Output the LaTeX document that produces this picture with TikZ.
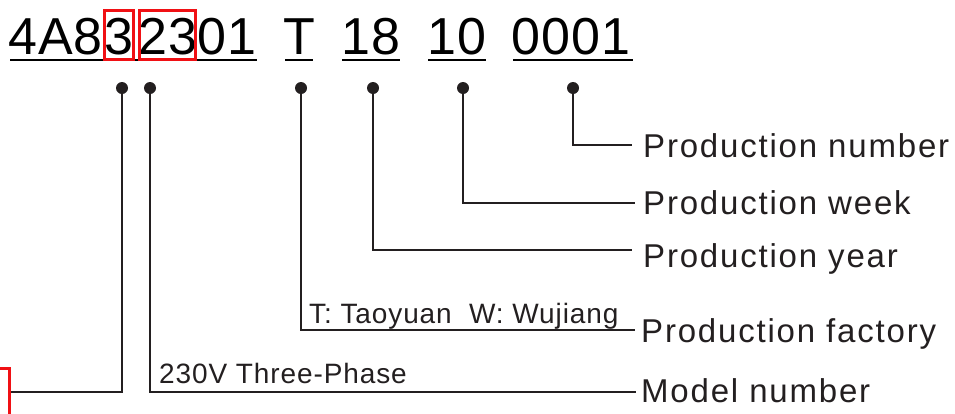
\documentclass[tikz,border=0pt]{standalone}
\usepackage{fontspec}
\setmainfont{Liberation Sans}
\newfontfamily\lblfont[LetterSpace=5.5]{Liberation Sans}
\newfontfamily\notefont[LetterSpace=3.2]{Liberation Sans}
\newfontfamily\codefont[LetterSpace=2]{Liberation Sans}
\definecolor{ink}{HTML}{231F20}
\definecolor{mark}{RGB}{240,16,20}
\begin{document}
\begin{tikzpicture}[x=1pt,y=-1pt,
  code/.style={font=\codefont\fontsize{52}{52}\selectfont, anchor=base west, inner sep=0pt},
  lbl/.style={font=\lblfont\fontsize{33}{33}\selectfont, anchor=base west, inner sep=0pt, text=ink},
  note/.style={font=\notefont\fontsize{28}{28}\selectfont, anchor=base west, inner sep=0pt, text=ink},
  dot/.style={circle, fill=ink, inner sep=0pt, minimum size=12pt},
  conn/.style={draw=ink, line width=1.7pt},
  uline/.style={draw=black, line width=2pt},
  redbox/.style={draw=mark, line width=3pt},
]
\useasboundingbox (0,0) rectangle (955,413);
% code string
\node[code] (c1) at (8,54) {4A8};
\node[code] (c2) at (104.5,54) {3};
\node[code] (c3) at (138.6,54) {23};
\node[code] (c4) at (197.5,54) {01};
\node[code] (c5) at (283,54) {T};
\node[code] (c6) at (341,54) {18};
\node[code] (c7) at (427,54) {10};
\node[code] (c8) at (511,54) {0001};
% underlines
\draw[uline] (10,60) -- (257,60);
\draw[uline] (285,60) -- (313,60);
\draw[uline] (342,60) -- (400,60);
\draw[uline] (428,60) -- (486,60);
\draw[uline] (513,60) -- (633,60);
% red boxes
\draw[redbox] (104.5,10.5) rectangle (133.5,59.5);
\draw[redbox] (139.5,10.5) rectangle (195.5,59.5);
% dots
\node[dot] (d1) at (122,88) {};
\node[dot] (d2) at (150,88) {};
\node[dot] (d3) at (301,88) {};
\node[dot] (d4) at (373,88) {};
\node[dot] (d5) at (463,88) {};
\node[dot] (d6) at (573,88) {};
% labels
\node[lbl] (lnum) at (643,157) {Production number};
\node[lbl] (lweek) at (643,214) {Production week};
\node[lbl] (lyear) at (643,267) {Production year};
\node[lbl] (lfac) at (641,342) {Production factory};
\node[lbl] (lmod) at (641,402) {Model number};
\node[note] (nfac) at (309,323) {T: Taoyuan\ \ W: Wujiang};
\node[note] (nmod) at (159,383) {230V Three-Phase};
% connector ends
\coordinate (e1) at (10,392);
\coordinate (e2) at (636,392);
\coordinate (e3) at (635,330);
\coordinate (e4) at (632,250);
\coordinate (e5) at (635,203);
\coordinate (e6) at (632,145);
\draw[conn] (d1.center) |- (e1);
\draw[conn] (d2.center) |- (e2);
\draw[conn] (d3.center) |- (e3);
\draw[conn] (d4.center) |- (e4);
\draw[conn] (d5.center) |- (e5);
\draw[conn] (d6.center) |- (e6);
% red mark at left
\coordinate (r0) at (0,368);
\coordinate (r1) at (9,420);
\draw[draw=mark, line width=3pt] (r0) -| (r1);
\end{tikzpicture}
\end{document}
